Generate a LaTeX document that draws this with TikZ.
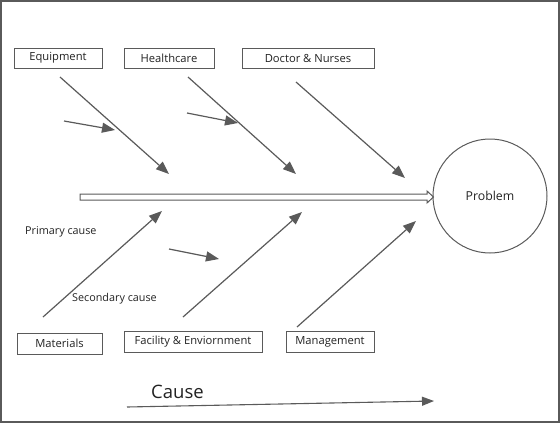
\documentclass[tikz,border=0pt]{standalone}
\usepackage{fontspec}
\setmainfont{Open Sans}
\usetikzlibrary{arrows.meta}
\definecolor{edge}{HTML}{5A5A5A}
\definecolor{ink}{HTML}{222222}
\tikzset{
  causebox/.style={draw=edge, line width=0.9pt, minimum height=20pt, inner sep=0pt, text=ink, font=\fontsize{11.2}{13}\selectfont},
  bone/.style={draw=edge, line width=1.2pt, -{Triangle[length=13pt,width=10pt]}},
  lbl/.style={text=ink, font=\fontsize{10.8}{13}\selectfont, inner sep=0pt}
}
\begin{document}
\begin{tikzpicture}[x=1pt,y=-1pt]
\useasboundingbox (0,0) rectangle (560,423);
\draw[edge, line width=1.6pt] (0.8,0.8) rectangle (559.2,421.7);
% boxes
\node[causebox, minimum width=88pt] (equip) at (58,58) {Equipment};
\node[causebox, minimum width=90pt] (health) at (169,58) {Healthcare};
\node[causebox, minimum width=132pt] (doctor) at (308,58) {Doctor \& Nurses};
\node[causebox, minimum width=85pt, minimum height=21pt] (mat) at (59.5,343.5) {Materials};
\node[causebox, minimum width=138pt, minimum height=21pt] (fac) at (193,341.5) {Facility \& Enviornment};
\node[causebox, minimum width=88pt, minimum height=21pt] (mgmt) at (330,341.5) {Management};
% problem
\node[draw=edge, line width=1pt, circle, minimum size=114pt, inner sep=0pt, text=ink, font=\fontsize{12.3}{15}\selectfont] (prob) at (490,196) {Problem};
% spine
\draw[edge, line width=1pt, fill=white] (80,194) -- (427,194) -- (427,191) -- (433.5,197) -- (427,203) -- (427,200) -- (80,200) -- cycle;
% bones
\coordinate (a1) at (60,77);  \coordinate (b1) at (169,174);
\coordinate (a2) at (188,77); \coordinate (b2) at (296,174);
\coordinate (a3) at (296,82); \coordinate (b3) at (405,178);
\coordinate (a4) at (43,317); \coordinate (b4) at (162,211);
\coordinate (a5) at (183,317); \coordinate (b5) at (302,212);
\coordinate (a6) at (297,327); \coordinate (b6) at (416,221);
\draw[bone] (a1) -- (b1);
\draw[bone] (a2) -- (b2);
\draw[bone] (a3) -- (b3);
\draw[bone] (a4) -- (b4);
\draw[bone] (a5) -- (b5);
\draw[bone] (a6) -- (b6);
% secondary
\coordinate (c1) at (64,121); \coordinate (d1) at (115,130);
\coordinate (c2) at (187,113); \coordinate (d2) at (238,123);
\coordinate (c3) at (169,249); \coordinate (d3) at (219,259);
\draw[bone] (c1) -- (d1);
\draw[bone] (c2) -- (d2);
\draw[bone] (c3) -- (d3);
% labels
\node[lbl, anchor=west] (prim) at (25,232) {Primary cause};
\node[lbl, anchor=west] (sec) at (72,299) {Secondary cause};
% cause arrow
\node[text=ink, font=\fontsize{18.5}{22}\selectfont, inner sep=0pt, anchor=west] (cause) at (151,392) {Cause};
\coordinate (e0) at (127,407); \coordinate (e1) at (434,401);
\draw[draw=edge, line width=1.1pt, -{Triangle[length=12pt,width=9pt]}] (e0) -- (e1);
\end{tikzpicture}
\end{document}
